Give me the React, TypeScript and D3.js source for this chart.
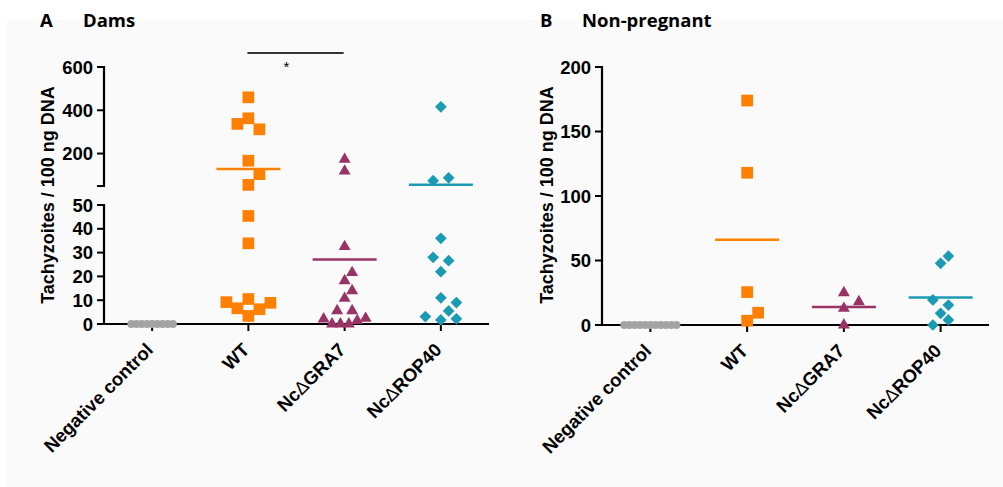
import React from 'react';
import * as d3 from 'd3';

// groups on the x axis
const groups = ['Negative control', 'WT', 'NcΔGRA7', 'NcΔROP40'];

// panel A: dams (tachyzoites / 100 ng DNA)
const damsNegative = [0, 0, 0, 0, 0, 0, 0, 0, 0];
const damsWT = [460, 363, 337, 312, 167, 105, 55, 45.4, 33.9, 9.2, 10.5, 8.9, 6.6, 6.2, 3.4];
const damsGRA7 = [173, 119, 32.5, 21.6, 18.2, 14, 10.8, 5.6, 5.6, 2.1, 0, 0, 0, 1.4, 2.4];
const damsROP40 = [416, 74.5, 88, 36, 28, 26.6, 22, 11, 9, 5.5, 3.1, 1.7, 2.2];

// panel B: non-pregnant
const nonPregNegative = [0, 0, 0, 0, 0, 0, 0, 0, 0, 0, 0];
const nonPregWT = [174, 118, 25.5, 9.5, 3.3];
const nonPregGRA7 = [25, 18, 12.9, 0];
const nonPregROP40 = [53.4, 47.8, 19.4, 15.5, 9.1, 0, 3.9];

// axis ticks
const damsLowTicks = [0, 10, 20, 30, 40, 50];
const damsHighTicks = [50, 200, 400, 600];
const nonPregTicks = [0, 50, 100, 150, 200];

const FONT = '"Liberation Sans", Arial, sans-serif';
const TITLE_FONT = '"Open Sans", sans-serif';
const LABEL_SIZE = 18.5;

type Style = { color: string; shape: string; size: number; gap: number; maxSpan: number; clear: number };
const styles: Style[] = [
  { color: '#a3a3a3', shape: 'circle', size: 50, gap: 5.2, maxSpan: 60, clear: 4 },
  { color: '#ff8000', shape: 'square', size: 137, gap: 22, maxSpan: 44, clear: 12 },
  { color: '#993366', shape: 'triangle', size: 62, gap: 15, maxSpan: 42, clear: 10 },
  { color: '#1b9bb3', shape: 'diamond', size: 69, gap: 15.5, maxSpan: 42, clear: 10 },
];

const symbolPath = (s: Style) => {
  const type = s.shape === 'circle' ? d3.symbolCircle
    : s.shape === 'triangle' ? d3.symbolTriangle : d3.symbolSquare;
  return d3.symbol().type(type).size(s.size)() as string;
};

// row based column scatter, similar to Prism's layout
function swarm(values: number[], yOf: (v: number) => number, s: Style) {
  const pts = values.map((v, i) => ({ v, i, y: yOf(v), dx: 0 }));
  const sorted = [...pts].sort((a, b) => a.v - b.v || a.i - b.i);
  const rows: typeof pts[] = [];
  for (const p of sorted) {
    const row = rows[rows.length - 1];
    if (row && Math.abs(row[0].y - p.y) <= 6) row.push(p);
    else rows.push([p]);
  }
  const placed: typeof pts = [];
  const u = s.gap / 2;
  for (const row of rows) {
    row.sort((a, b) => a.i - b.i);
    const n = row.length;
    const step = n > 1 ? Math.min(s.gap, s.maxSpan / (n - 1)) : 0;
    const base = row.map((_, k) => (k - (n - 1) / 2) * step);
    let chosen = 0;
    for (const sh of [0, u, -u, 2 * u, -2 * u, 3 * u, -3 * u]) {
      const ok = row.every((p, k) => placed.every(q => Math.hypot(base[k] + sh - q.dx, p.y - q.y) >= s.clear));
      if (ok) { chosen = sh; break; }
    }
    row.forEach((p, k) => { p.dx = base[k] + chosen; placed.push(p); });
  }
  return pts;
}

function Points({ sets, x, yOf }: { sets: number[][]; x: d3.ScalePoint<string>; yOf: (v: number) => number }) {
  return (
    <g>
      {sets.map((vals, gi) => {
        const s = styles[gi];
        const cx = x(groups[gi])!;
        const path = symbolPath(s);
        const m = d3.mean(vals)!;
        return (
          <g key={gi}>
            {swarm(vals, yOf, s).map((p, k) => (
              <path key={k} d={path} fill={s.color}
                transform={`translate(${cx + p.dx},${p.y})${s.shape === 'diamond' ? ' rotate(45)' : ''}`} />
            ))}
            {gi > 0 && (
              <line x1={cx - 32} x2={cx + 32} y1={yOf(m)} y2={yOf(m)} stroke={s.color} strokeWidth={2.5} />
            )}
          </g>
        );
      })}
    </g>
  );
}

function XAxis({ x, y, x0, x1 }: { x: d3.ScalePoint<string>; y: number; x0: number; x1: number }) {
  return (
    <g>
      <line x1={x0} x2={x1} y1={y} y2={y} stroke="#000" strokeWidth={2.2} />
      {groups.map(g => (
        <g key={g}>
          <line x1={x(g)} x2={x(g)} y1={y} y2={y + 7} stroke="#000" strokeWidth={2} />
          <text transform={`translate(${x(g)! + 2},${y + 27}) rotate(-45)`} textAnchor="end"
            fontFamily={FONT} fontWeight="bold" fontSize={LABEL_SIZE} fill="#000">
            {g.includes('Δ')
              ? <>{'Nc'}<tspan fontWeight="normal">Δ</tspan>{g.split('Δ')[1]}</>
              : g}
          </text>
        </g>
      ))}
    </g>
  );
}

function YTicks({ scale, ticks, x, labelled = () => true }: { scale: d3.ScaleLinear<number, number>; ticks: number[]; x: number; labelled?: (v: number) => boolean }) {
  const [r0, r1] = scale.range();
  return (
    <g>
      <line x1={x} x2={x} y1={r0 + 1} y2={r1 - 1} stroke="#000" strokeWidth={2.2} />
      {ticks.map(t => (
        <g key={t}>
          <line x1={x - 7} x2={x} y1={scale(t)} y2={scale(t)} stroke="#000" strokeWidth={2} />
          {labelled(t) && (
            <text x={x - 11} y={scale(t)} dy="0.36em" textAnchor="end" fontFamily={FONT}
              fontWeight="bold" fontSize={LABEL_SIZE} fill="#000">{t}</text>
          )}
        </g>
      ))}
    </g>
  );
}

export default function App() {
  // panel A with a broken y axis
  const xA = d3.scalePoint<string>().domain(groups).range([104, 489]).padding(0.5);
  const yLow = d3.scaleLinear().domain([0, 50]).range([324, 205]);
  const yHigh = d3.scaleLinear().domain([50, 600]).range([186, 67]);
  const yA = (v: number) => (v <= 50 ? yLow(v) : yHigh(v));

  // panel B
  const xB = d3.scalePoint<string>().domain(groups).range([602, 989]).padding(0.5);
  const yB = d3.scaleLinear().domain([0, 200]).range([325, 67]);

  const sigX1 = xA('WT')! - 1;
  const sigX2 = xA('NcΔGRA7')! - 1;

  return (
    <svg width={1003} height={487} style={{ position: 'absolute', left: 0, top: 0 }}>
      <rect x={0} y={0} width={1003} height={487} fill="#fff" />
      <rect x={7} y={20} width={996} height={467} fill="#fafafa" />

      {/* titles */}
      <text x={40} y={27} fontFamily={TITLE_FONT} fontWeight="bold" fontSize={18.5}>A</text>
      <text x={83} y={27} fontFamily={TITLE_FONT} fontWeight="bold" fontSize={18.5}>Dams</text>
      <text x={540} y={27} fontFamily={TITLE_FONT} fontWeight="bold" fontSize={18.5}>B</text>
      <text x={582} y={27} fontFamily={TITLE_FONT} fontWeight="bold" fontSize={18.5}>Non-pregnant</text>

      {/* panel A */}
      <text transform="translate(54,195) rotate(-90)" textAnchor="middle" fontFamily={FONT}
        fontWeight="bold" fontSize={18}>Tachyzoites / 100 ng DNA</text>
      <YTicks scale={yHigh} ticks={damsHighTicks} x={104} labelled={t => t !== 50} />
      <YTicks scale={yLow} ticks={damsLowTicks} x={104} />
      <XAxis x={xA} y={324} x0={104} x1={489} />
      <line x1={sigX1} x2={sigX2} y1={53} y2={53} stroke="#333" strokeWidth={2} />
      <text x={(sigX1 + sigX2) / 2 - 9} y={72} textAnchor="middle" fontFamily={FONT} fontSize={15}>*</text>
      <Points sets={[damsNegative, damsWT, damsGRA7, damsROP40]} x={xA} yOf={yA} />

      {/* panel B */}
      <text transform="translate(552.5,195) rotate(-90)" textAnchor="middle" fontFamily={FONT}
        fontWeight="bold" fontSize={18}>Tachyzoites / 100 ng DNA</text>
      <YTicks scale={yB} ticks={nonPregTicks} x={602} />
      <XAxis x={xB} y={325} x0={602} x1={989} />
      <Points sets={[nonPregNegative, nonPregWT, nonPregGRA7, nonPregROP40]} x={xB} yOf={yB} />
    </svg>
  );
}
